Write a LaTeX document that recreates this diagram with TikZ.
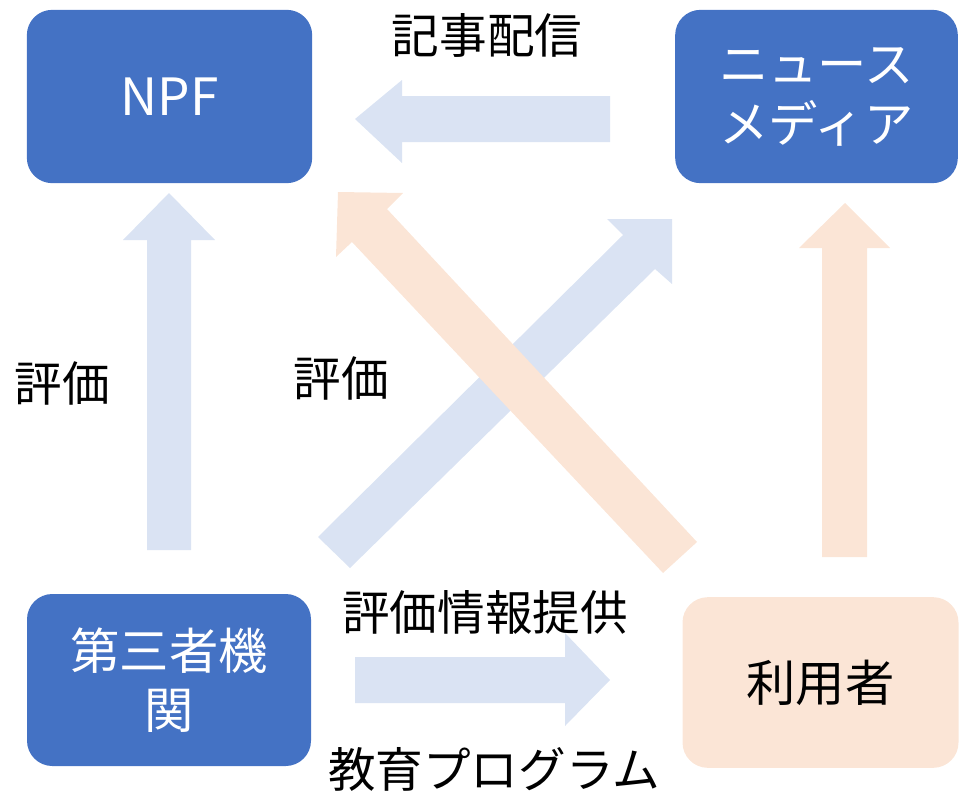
\documentclass[tikz,border=0pt]{standalone}
\usepackage{fontspec}
\setmainfont{Noto Sans CJK JP}
\definecolor{boxblue}{HTML}{4472C4}
\definecolor{lightblue}{HTML}{DAE3F3}
\definecolor{lightorange}{HTML}{FBE5D6}
\begin{document}
\begin{tikzpicture}[x=0.75pt,y=-0.75pt,
  box/.style={rounded corners=19pt, inner sep=0pt, align=center,
    font=\fontsize{37}{45}\selectfont},
  lbl/.style={inner sep=0pt, font=\fontsize{35.7}{42}\selectfont, text=black}]
\useasboundingbox (0,0) rectangle (959,792);
% boxes
\node[box, fill=boxblue, text=white, minimum width=214pt, minimum height=130pt] (npf) at (169.5,96.5) {\fontsize{38.5}{45}\selectfont NPF};
\node[box, fill=boxblue, text=white, minimum width=212pt, minimum height=130pt] (media) at (816.5,96.5) {ニュース\\メディア};
\node[box, fill=boxblue, text=white, minimum width=213pt, minimum height=129pt] (third) at (169,680) {第三者機\\[-1pt]関};
\node[box, fill=lightorange, text=black, minimum width=207pt, minimum height=128pt] (user) at (820.5,682.5) {利用者};
% block arrows
\fill[lightblue] (610,96) -- (402,96) -- (402,80) -- (355,119) -- (402,163) -- (402,142) -- (610,142) -- cycle;
\fill[lightblue] (147,550) -- (147,240) -- (123,240) -- (169,193) -- (215,240) -- (191,240) -- (191,550) -- cycle;
\fill[lightorange] (822,557) -- (822,248) -- (799,248) -- (845,203) -- (890,248) -- (867,248) -- (867,557) -- cycle;
\fill[lightblue] (355,657) -- (565,657) -- (565,633) -- (610,680) -- (565,726) -- (565,703) -- (355,703) -- cycle;
\fill[lightblue] (318,537) -- (623,235) -- (607,219) -- (672,219) -- (672,284) -- (655,269) -- (350,568) -- cycle;
\fill[lightorange] (697,542) -- (387,209) -- (403,193) -- (338,192) -- (336,257) -- (352,242) -- (663,573) -- cycle;
% labels
\node[lbl] (l1) at (487,35) {記事配信};
\node[lbl] (l2) at (62,383) {評価};
\node[lbl] (l3) at (341,378) {評価};
\node[lbl] (l4) at (485,612) {評価情報提供};
\node[lbl] (l5) at (494,769) {教育プログラム};
\end{tikzpicture}
\end{document}
